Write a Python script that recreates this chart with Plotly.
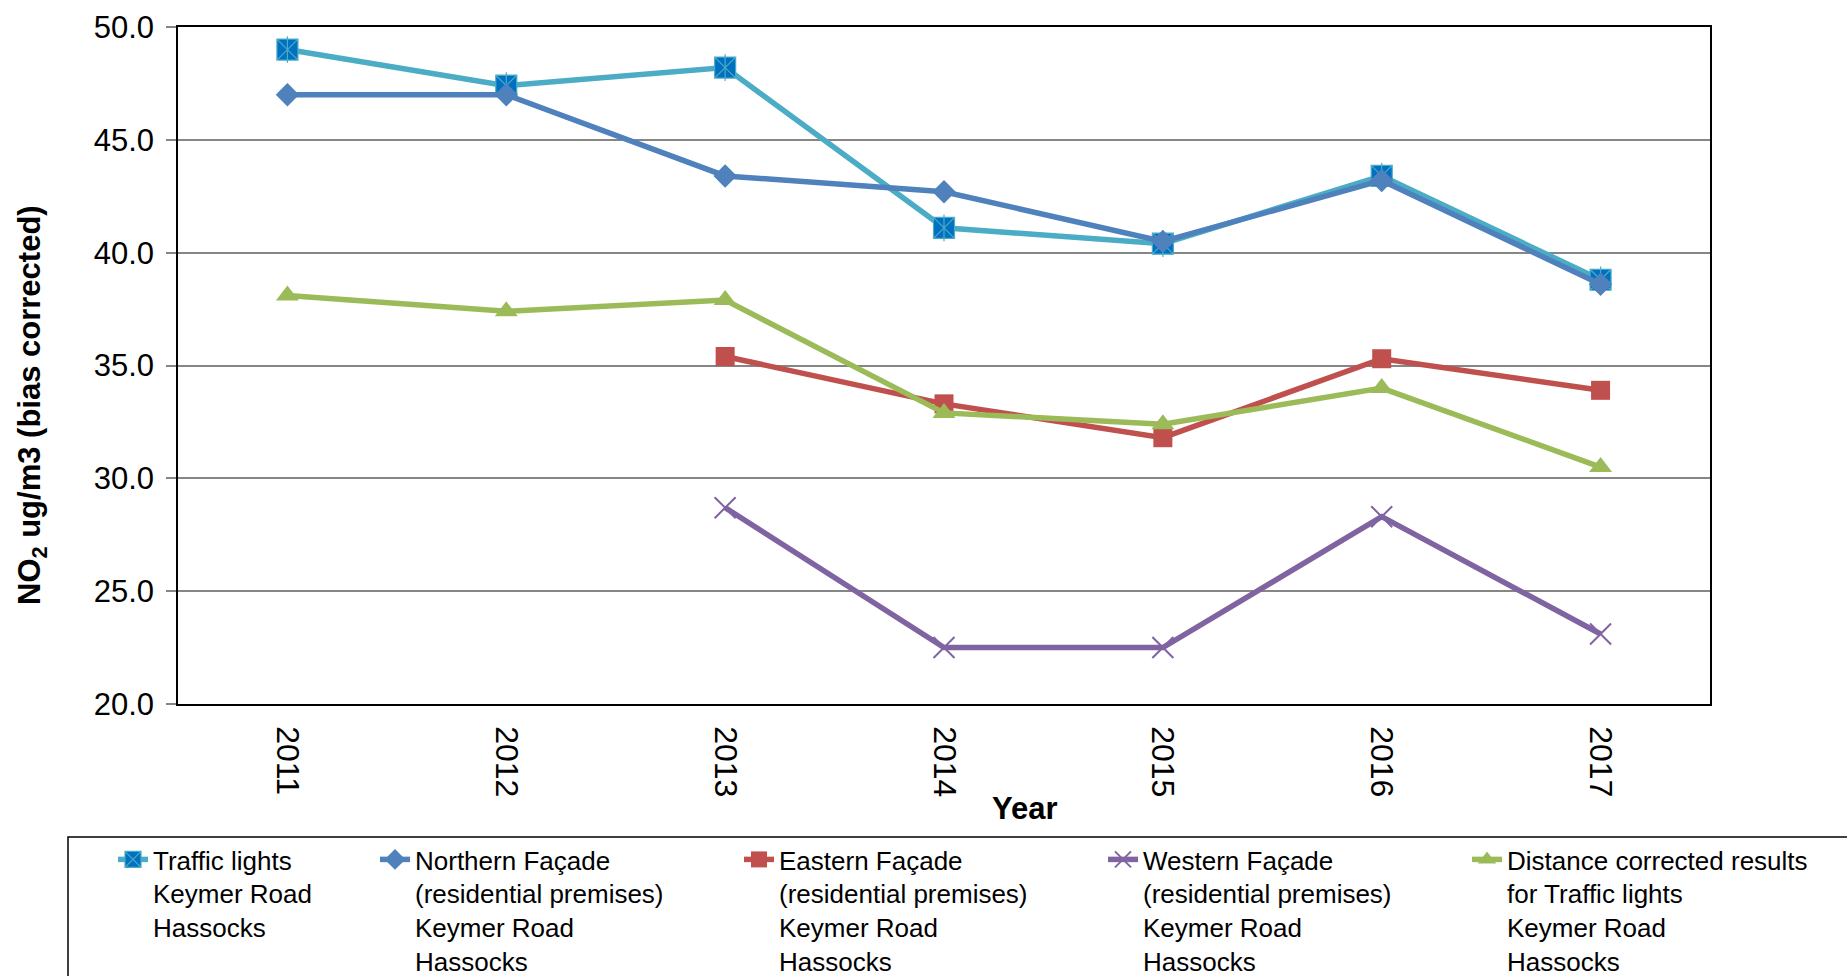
import plotly.graph_objects as go

years = ["2011", "2012", "2013", "2014", "2015", "2016", "2017"]
traffic_lights = [49.0, 47.4, 48.2, 41.1, 40.4, 43.4, 38.8]
northern = [47.0, 47.0, 43.4, 42.7, 40.5, 43.2, 38.6]
eastern = [None, None, 35.4, 33.3, 31.8, 35.3, 33.9]
western = [None, None, 28.7, 22.5, 22.5, 28.3, 23.1]
distance = [38.1, 37.4, 37.9, 32.9, 32.4, 34.0, 30.5]

names = [
    "Traffic lights<br>Keymer Road<br>Hassocks",
    "Northern Façade<br>(residential premises)<br>Keymer Road<br>Hassocks",
    "Eastern Façade<br>(residential premises)<br>Keymer Road<br>Hassocks",
    "Western Façade<br>(residential premises)<br>Keymer Road<br>Hassocks",
    "Distance corrected results<br>for Traffic lights<br>Keymer Road<br>Hassocks",
]

FONT = "Liberation Sans, Arial, sans-serif"
W, H = 1847, 976
L, R, T, B = 178, 1710, 27, 704
PW, PH = R - L, B - T


def px_x(px):
    return (px - L) / PW


def px_y(py):
    return (B - py) / PH


fig = go.Figure()

fig.add_trace(go.Scatter(
    x=years, y=traffic_lights, name=names[0], mode="lines+markers",
    line=dict(color="#4BACC6", width=5.5),
    marker=dict(symbol="square-x", size=21, color="#0070C0",
                line=dict(color="#4BACC6", width=1.2)),
    legend="legend",
))
fig.add_trace(go.Scatter(
    x=years, y=traffic_lights, mode="markers", showlegend=False, hoverinfo="skip",
    marker=dict(symbol="line-ns", size=19, color="#4BACC6",
                line=dict(color="#4BACC6", width=1.2)),
))
fig.add_trace(go.Scatter(
    x=years, y=northern, name=names[1], mode="lines+markers",
    line=dict(color="#4F81BD", width=5.5),
    marker=dict(symbol="diamond", size=18, color="#4F81BD"),
    legend="legend2",
))
fig.add_trace(go.Scatter(
    x=years, y=eastern, name=names[2], mode="lines+markers",
    line=dict(color="#C0504D", width=5.5),
    marker=dict(symbol="square", size=19, color="#C0504D"),
    legend="legend3",
))
fig.add_trace(go.Scatter(
    x=years, y=western, name=names[3], mode="lines+markers",
    line=dict(color="#8064A2", width=5.5),
    marker=dict(symbol="x-thin-open", size=21, color="#8064A2",
                line=dict(color="#8064A2", width=2)),
    legend="legend4",
))
fig.add_trace(go.Scatter(
    x=years, y=distance, name=names[4], mode="lines+markers",
    line=dict(color="#9BBB59", width=5.5),
    marker=dict(symbol="triangle-up", size=20, color="#9BBB59"),
    legend="legend5",
))

text_starts = [153, 415, 779, 1143, 1507]
legend_top = 836
leg_common = dict(
    font=dict(family=FONT, size=26, color="#000000"),
    bgcolor="rgba(0,0,0,0)", borderwidth=0,
    xanchor="left", yanchor="top", valign="top",
    orientation="v", itemwidth=30,
)
legends = {}
for i, tx in enumerate(text_starts):
    key = "legend" if i == 0 else f"legend{i+1}"
    legends[key] = dict(leg_common, x=px_x(tx - 40), y=px_y(legend_top))

fig.update_layout(
    width=W, height=H,
    margin=dict(l=L, r=W - R, t=T, b=H - B, autoexpand=False),
    paper_bgcolor="white", plot_bgcolor="white",
    font=dict(family=FONT, size=30, color="#000000"),
    xaxis=dict(
        type="category", range=[-0.5, 6.5],
        showgrid=False, showline=True, linecolor="#000000", linewidth=1.5,
        mirror=True, ticks="", tickangle=90,
        tickfont=dict(family=FONT, size=32, color="#000000"),
        ticklabelstandoff=14,
    ),
    yaxis=dict(
        range=[20, 50], dtick=5, tickformat=".1f",
        showgrid=True, gridcolor="#868686", gridwidth=1.5,
        showline=True, linecolor="#000000", linewidth=1.5, mirror=True,
        ticks="outside", ticklen=10, tickcolor="#868686", tickwidth=1.5,
        zeroline=False,
        tickfont=dict(family=FONT, size=31, color="#000000"),
        ticklabelstandoff=6,
    ),
    showlegend=True,
    shapes=[dict(
        type="rect", xref="paper", yref="paper",
        x0=px_x(68), x1=px_x(1920), y0=px_y(837), y1=px_y(1010),
        line=dict(color="#000000", width=1.5), fillcolor="rgba(0,0,0,0)",
        layer="below",
    )],
    annotations=[
        dict(text="<b>NO<sub>2</sub> ug/m3 (bias corrected)</b>", textangle=-90,
             xref="paper", yref="paper", x=px_x(32), y=px_y(405),
             xanchor="center", yanchor="middle", showarrow=False,
             font=dict(family=FONT, size=31, color="#000000")),
        dict(text="<b>Year</b>",
             xref="paper", yref="paper", x=px_x(1025), y=px_y(808),
             xanchor="center", yanchor="middle", showarrow=False,
             font=dict(family=FONT, size=31, color="#000000")),
    ],
    **legends,
)

fig.write_html("out.html")
